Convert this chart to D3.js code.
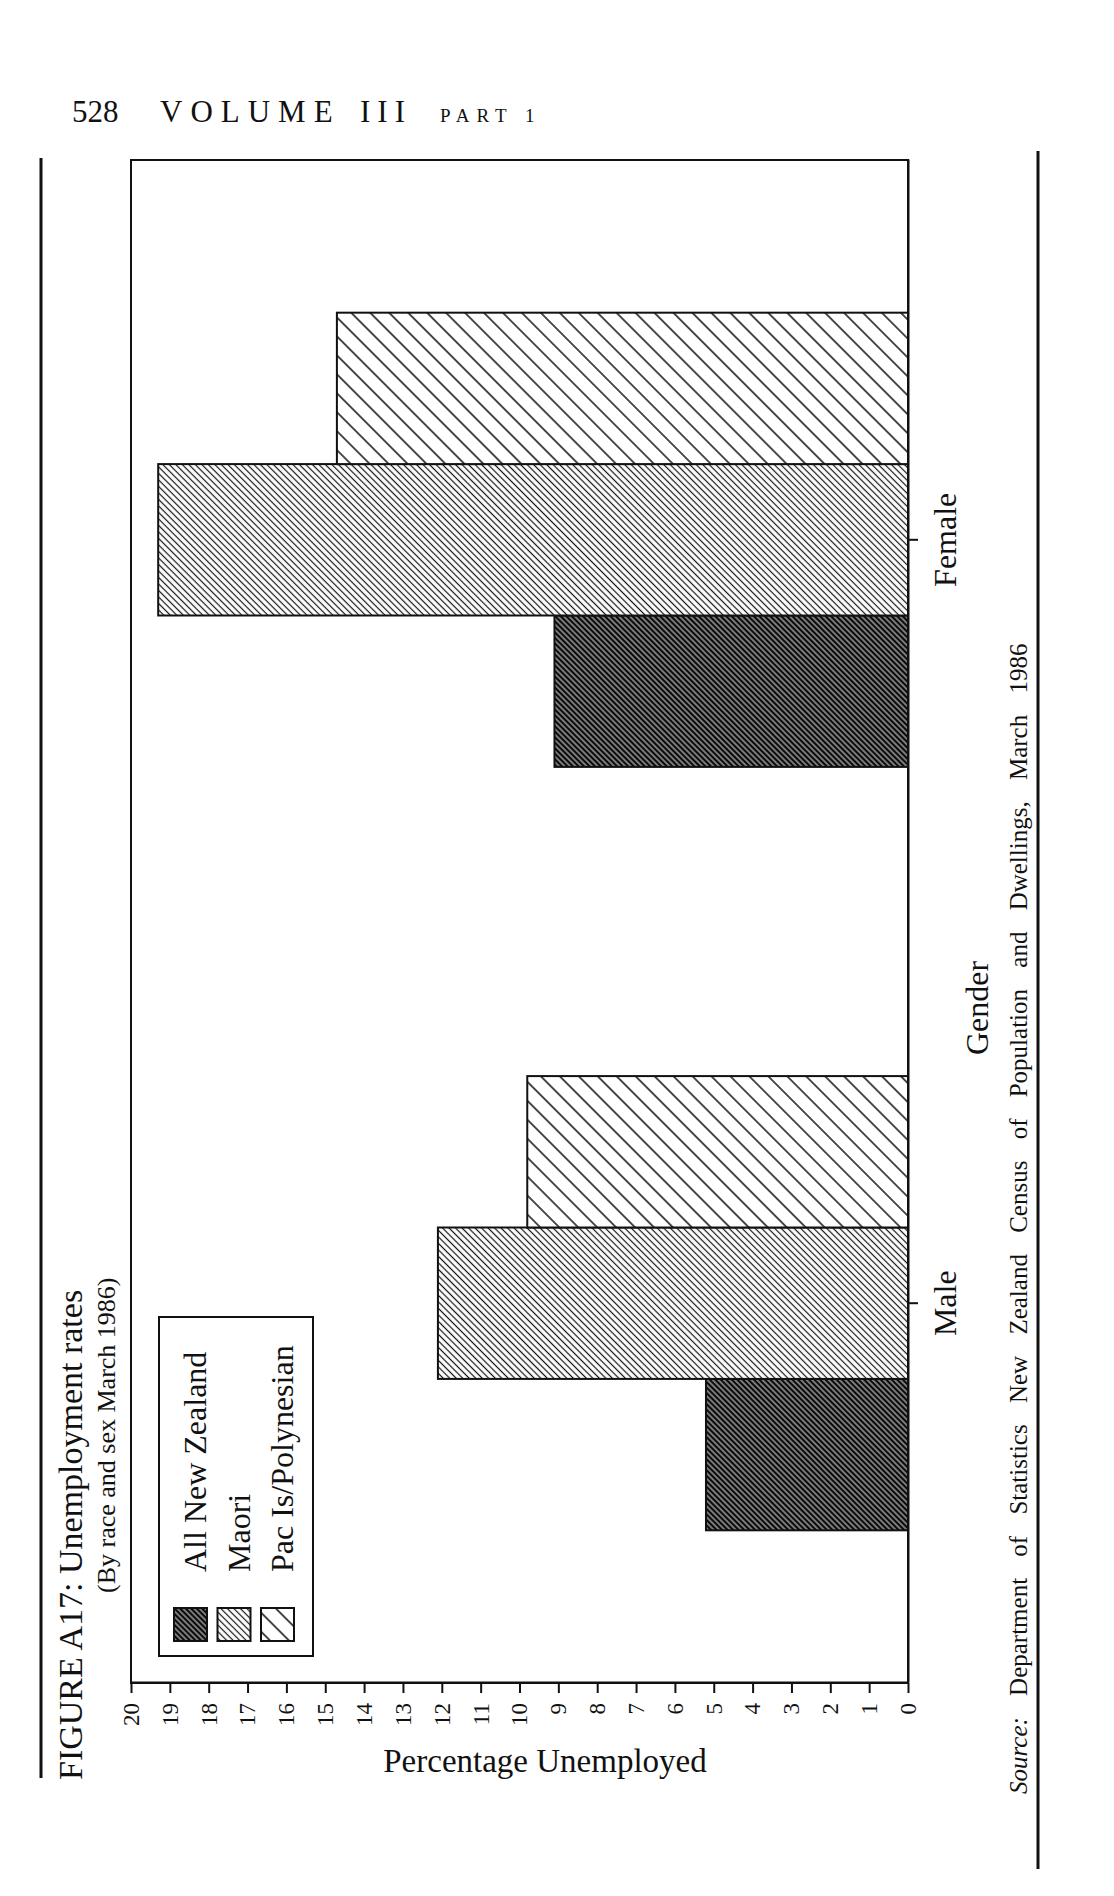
<!DOCTYPE html>
<html>
<head>
<meta charset="utf-8">
<script src="https://cdn.jsdelivr.net/npm/d3@7"></script>
<style>
body { margin: 0; background: #fff; }
text { font-family: "Liberation Serif", "DejaVu Serif", serif; fill: #111; }
</style>
</head>
<body>
<svg id="canvas" width="1114" height="1896"></svg>
<script>
// values (percent unemployed, March 1986)
let genders = ['Male', 'Female']
let groups = ['All New Zealand', 'Maori', 'Pac Is/Polynesian']
let allNZ = [5.2, 9.1]
let maori = [12.1, 19.3]
let pacIs = [9.8, 14.7]
let percentTicks = [0, 1, 2, 3, 4, 5, 6, 7, 8, 9, 10, 11, 12, 13, 14, 15, 16, 17, 18, 19, 20]

let rows = genders.map((g, i) => ({ gender: g, values: [allNZ[i], maori[i], pacIs[i]] }))

let svg = d3.select('#canvas')
let defs = svg.append('defs')

let hatch = (id, gap, lineWidth, bg, fg) => {
  let p = defs.append('pattern')
    .attr('id', id)
    .attr('patternUnits', 'userSpaceOnUse')
    .attr('width', gap)
    .attr('height', gap)
    .attr('patternTransform', 'rotate(45)')
  p.append('rect').attr('width', gap).attr('height', gap).attr('fill', bg)
  p.append('line')
    .attr('x1', gap / 2).attr('y1', -1)
    .attr('x2', gap / 2).attr('y2', gap + 1)
    .attr('stroke', fg)
    .attr('stroke-width', lineWidth)
}
hatch('h-all', 3.9, 0.9, '#0a0a0a', '#fff')
hatch('h-maori', 4.6, 1.2, '#fff', '#111')
hatch('h-pac', 13.4, 1.5, '#fff', '#111')
let fills = { 'All New Zealand': 'url(#h-all)', 'Maori': 'url(#h-maori)', 'Pac Is/Polynesian': 'url(#h-pac)' }

// page header
let header = svg.append('text').attr('y', 122).attr('font-size', 31)
header.append('tspan').attr('x', 72).text('528')
header.append('tspan').attr('x', 160).attr('letter-spacing', 8).text('VOLUME')
header.append('tspan').attr('x', 360).attr('letter-spacing', 7).text('III')
header.append('tspan').attr('x', 440).attr('font-size', 19).attr('letter-spacing', 7).text('PART 1')

// side rules
svg.append('line').attr('x1', 41).attr('x2', 41).attr('y1', 158).attr('y2', 1778)
  .attr('stroke', '#111').attr('stroke-width', 3)
svg.append('line').attr('x1', 1038).attr('x2', 1038).attr('y1', 151).attr('y2', 1869)
  .attr('stroke', '#111').attr('stroke-width', 3)

// the figure is printed sideways: draw it upright and turn it a quarter left
let chart = svg.append('g').attr('transform', 'translate(0,1896) rotate(-90)')

let x = d3.scaleBand()
  .domain(genders)
  .range([213, 1736])
  .paddingInner(0.405)
  .paddingOuter(0.2)
let xInner = d3.scaleBand().domain(groups).range([0, x.bandwidth()])
let y = d3.scaleLinear().domain([0, 20]).range([908, 131])

chart.selectAll('g.gender')
  .data(rows)
  .enter()
  .append('g')
  .attr('class', 'gender')
  .attr('transform', d => 'translate(' + x(d.gender) + ',0)')
  .selectAll('rect')
  .data(d => groups.map((k, j) => ({ key: k, value: d.values[j] })))
  .enter()
  .append('rect')
  .attr('x', d => xInner(d.key))
  .attr('width', xInner.bandwidth())
  .attr('y', d => y(d.value))
  .attr('height', d => y(0) - y(d.value))
  .attr('fill', d => fills[d.key])
  .attr('stroke', '#111')
  .attr('stroke-width', 2)

// plot frame
chart.append('rect')
  .attr('x', 213).attr('y', 131)
  .attr('width', 1523).attr('height', 777)
  .attr('fill', 'none').attr('stroke', '#111').attr('stroke-width', 2)

let yAxis = chart.append('g')
  .attr('transform', 'translate(213,0)')
  .call(d3.axisLeft(y).tickValues(percentTicks).tickSize(10).tickPadding(10).tickSizeOuter(0))
yAxis.attr('font-family', null).attr('font-size', 23)
yAxis.selectAll('line, path').attr('stroke', '#111').attr('stroke-width', 2)

let xAxis = chart.append('g')
  .attr('transform', 'translate(0,908)')
  .call(d3.axisBottom(x).tickSize(10).tickSizeOuter(0))
xAxis.attr('font-family', null).attr('font-size', 32)
xAxis.selectAll('line, path').attr('stroke', '#111').attr('stroke-width', 2)
xAxis.selectAll('text').attr('y', 48).attr('dy', 0)

chart.append('text')
  .attr('x', 888).attr('y', 988)
  .attr('text-anchor', 'middle')
  .attr('font-size', 32)
  .text('Gender')

// legend
let legend = chart.append('g').attr('transform', 'translate(240,159)')
legend.append('rect')
  .attr('width', 339).attr('height', 154)
  .attr('fill', '#fff').attr('stroke', '#111').attr('stroke-width', 2)
let item = legend.selectAll('g.item')
  .data(groups)
  .enter()
  .append('g')
  .attr('class', 'item')
  .attr('transform', (d, i) => 'translate(15,' + (15 + i * 43.5) + ')')
item.append('rect')
  .attr('width', 33).attr('height', 33)
  .attr('fill', d => fills[d])
  .attr('stroke', '#111').attr('stroke-width', 2)
item.append('text')
  .attr('x', 69).attr('y', 32)
  .attr('font-size', 32)
  .text(d => d)

// titles
chart.append('text')
  .attr('x', 116).attr('y', 82)
  .attr('font-size', 34)
  .text('FIGURE A17: Unemployment rates')
chart.append('text')
  .attr('x', 303).attr('y', 115)
  .attr('font-size', 26)
  .text('(By race and sex March 1986)')

let source = chart.append('text')
  .attr('x', 102).attr('y', 1027)
  .attr('font-size', 25)
  .attr('word-spacing', 15)
source.append('tspan').attr('font-style', 'italic').text('Source:')
source.append('tspan').text(' Department of Statistics New Zealand Census of Population and Dwellings, March 1986')

svg.append('text')
  .attr('x', 545).attr('y', 1772)
  .attr('text-anchor', 'middle')
  .attr('font-size', 33)
  .text('Percentage Unemployed')
</script>
</body>
</html>
